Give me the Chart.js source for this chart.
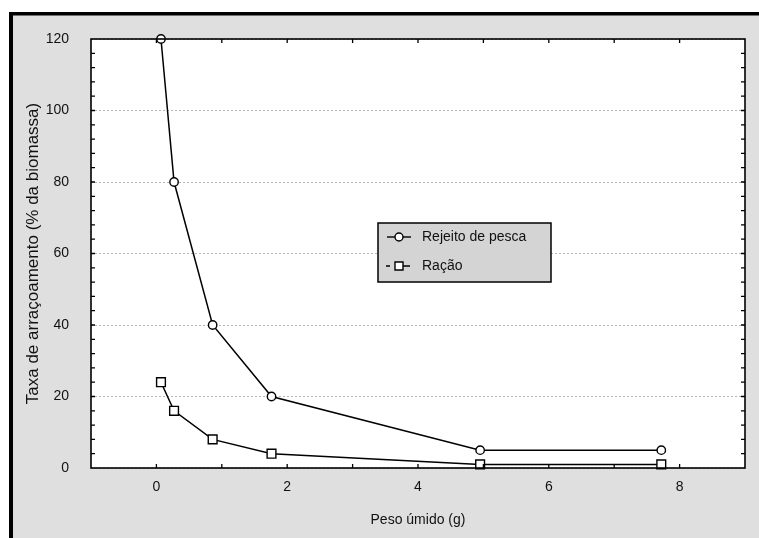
<!DOCTYPE html>
<html>
<head>
<meta charset="utf-8">
<script src="https://cdn.jsdelivr.net/npm/chart.js@4"></script>
<style>
  html, body { margin: 0; padding: 0; background: #ffffff; }
  #wrap { width: 759px; height: 538px; position: relative; }
</style>
</head>
<body>
<div id="wrap"><canvas id="chart"></canvas></div>
<script>
// Peso úmido (g) de cada amostra
const pesoUmido = [0.07, 0.27, 0.86, 1.76, 4.95, 7.72];
// Taxa de arraçoamento (% da biomassa) por tipo de alimento
const taxaRejeito = [120, 80, 40, 20, 5, 5];
const taxaRacao = [24, 16, 8, 4, 1, 1];
const seriesNames = ['Rejeito de pesca', 'Ração'];
const xTickValues = [0, 2, 4, 6, 8];
const yTickValues = [0, 20, 40, 60, 80, 100, 120];
const xAxisTitle = 'Peso úmido (g)';
const yAxisTitle = 'Taxa de arraçoamento (% da biomassa)';
const xLimits = [-1, 9];
const yLimits = [0, 120];

const textFont = "'Liberation Sans', Arial, sans-serif";

function toPoints(xs, ys) {
  return xs.map((x, i) => ({ x: x, y: ys[i] }));
}

// Panel background, frame, inward ticks and inset legend
const panelPlugin = {
  id: 'panel',
  beforeDraw(chart) {
    const { ctx, width, height, chartArea: a } = chart;
    ctx.save();
    ctx.fillStyle = '#ffffff';
    ctx.fillRect(0, 0, width, height);
    ctx.fillStyle = '#dfdfdf';
    ctx.fillRect(9, 12, width - 9, height - 12);
    ctx.fillStyle = '#000000';
    ctx.fillRect(9, 12, width - 9, 3.5);
    ctx.fillRect(9, 12, 4, height - 12);
    ctx.fillStyle = '#ffffff';
    ctx.fillRect(a.left, a.top, a.right - a.left, a.bottom - a.top);
    ctx.restore();
  },
  afterDatasetsDraw(chart) {
    const { ctx, chartArea: a, scales } = chart;
    const xs = scales.x, ys = scales.y;
    ctx.save();
    ctx.strokeStyle = '#000000';
    ctx.lineWidth = 1.6;
    ctx.strokeRect(a.left, a.top, a.right - a.left, a.bottom - a.top);
    ctx.lineWidth = 1.3;
    ctx.beginPath();
    for (let v = Math.ceil(xs.min); v <= xs.max; v += 1) {
      const px = xs.getPixelForValue(v);
      if (px <= a.left + 1 || px >= a.right - 1) continue;
      ctx.moveTo(px, a.bottom); ctx.lineTo(px, a.bottom - 4);
      ctx.moveTo(px, a.top); ctx.lineTo(px, a.top + 4);
    }
    for (let v = ys.min; v <= ys.max; v += 4) {
      const py = ys.getPixelForValue(v);
      if (py <= a.top + 1 || py >= a.bottom - 1) continue;
      ctx.moveTo(a.left, py); ctx.lineTo(a.left + 4, py);
      ctx.moveTo(a.right, py); ctx.lineTo(a.right - 4, py);
    }
    ctx.stroke();
    ctx.restore();
  },
  afterDraw(chart) {
    const { ctx } = chart;
    const box = { x: 378, y: 223, w: 173, h: 59 };
    ctx.save();
    ctx.fillStyle = '#d4d4d4';
    ctx.fillRect(box.x, box.y, box.w, box.h);
    ctx.strokeStyle = '#000000';
    ctx.lineWidth = 1.5;
    ctx.strokeRect(box.x, box.y, box.w, box.h);

    const rows = [box.y + 14, box.y + 43];
    const cx = box.x + 21;
    ctx.lineWidth = 1.4;
    chart.data.datasets.forEach((ds, i) => {
      const y = rows[i];
      ctx.strokeStyle = '#000000';
      ctx.beginPath();
      if (i === 0) {
        ctx.moveTo(cx - 12, y); ctx.lineTo(cx + 12, y);
      } else {
        ctx.moveTo(cx - 13, y); ctx.lineTo(cx - 9, y);
        ctx.moveTo(cx + 4, y); ctx.lineTo(cx + 11, y);
      }
      ctx.stroke();
      ctx.fillStyle = '#ffffff';
      ctx.beginPath();
      if (ds.pointStyle === 'rect') {
        ctx.rect(cx - 4, y - 4, 8, 8);
      } else {
        ctx.arc(cx, y, 4, 0, Math.PI * 2);
      }
      ctx.fill();
      ctx.stroke();
      ctx.fillStyle = '#111111';
      ctx.font = '14px ' + textFont;
      ctx.textBaseline = 'middle';
      ctx.textAlign = 'left';
      ctx.fillText(ds.label, box.x + 44, y);
    });
    ctx.restore();
  }
};

new Chart(document.getElementById('chart'), {
  type: 'scatter',
  data: {
    datasets: [
      {
        label: seriesNames[0],
        data: toPoints(pesoUmido, taxaRejeito),
        showLine: true,
        borderColor: '#000000',
        borderWidth: 1.5,
        pointStyle: 'circle',
        pointRadius: 4.2,
        pointBackgroundColor: '#ffffff',
        pointBorderColor: '#000000',
        pointBorderWidth: 1.4,
        clip: false
      },
      {
        label: seriesNames[1],
        data: toPoints(pesoUmido, taxaRacao),
        showLine: true,
        borderColor: '#000000',
        borderWidth: 1.5,
        pointStyle: 'rect',
        pointRadius: 6.2,
        pointBackgroundColor: '#ffffff',
        pointBorderColor: '#000000',
        pointBorderWidth: 1.4,
        clip: false
      }
    ]
  },
  options: {
    responsive: true,
    maintainAspectRatio: false,
    animation: false,
    events: [],
    layout: { padding: { left: 0, right: 14, top: 39, bottom: 0 } },
    plugins: {
      legend: { display: false },
      tooltip: { enabled: false }
    },
    scales: {
      x: {
        type: 'linear',
        min: xLimits[0],
        max: xLimits[1],
        afterFit(s) { s.height = 70; },
        afterBuildTicks(s) { s.ticks = xTickValues.map(v => ({ value: v })); },
        grid: { display: false, drawTicks: false },
        border: { display: false },
        ticks: {
          padding: 11,
          color: '#111111',
          font: { family: textFont, size: 14 }
        },
        title: {
          display: true,
          text: xAxisTitle,
          color: '#111111',
          font: { family: textFont, size: 14 },
          padding: { top: 0, bottom: 9 }
        }
      },
      y: {
        type: 'linear',
        min: yLimits[0],
        max: yLimits[1],
        afterFit(s) { s.width = 91; },
        afterBuildTicks(s) { s.ticks = yTickValues.map(v => ({ value: v })); },
        grid: {
          color: '#b4b4b4',
          lineWidth: 1,
          drawTicks: false
        },
        border: { display: false, dash: [2, 2] },
        ticks: {
          padding: 22,
          color: '#111111',
          font: { family: textFont, size: 14 }
        },
        title: {
          display: true,
          text: yAxisTitle,
          color: '#111111',
          font: { family: textFont, size: 17 },
          padding: { top: 23, bottom: 0 }
        }
      }
    }
  },
  plugins: [panelPlugin]
});
</script>
</body>
</html>
